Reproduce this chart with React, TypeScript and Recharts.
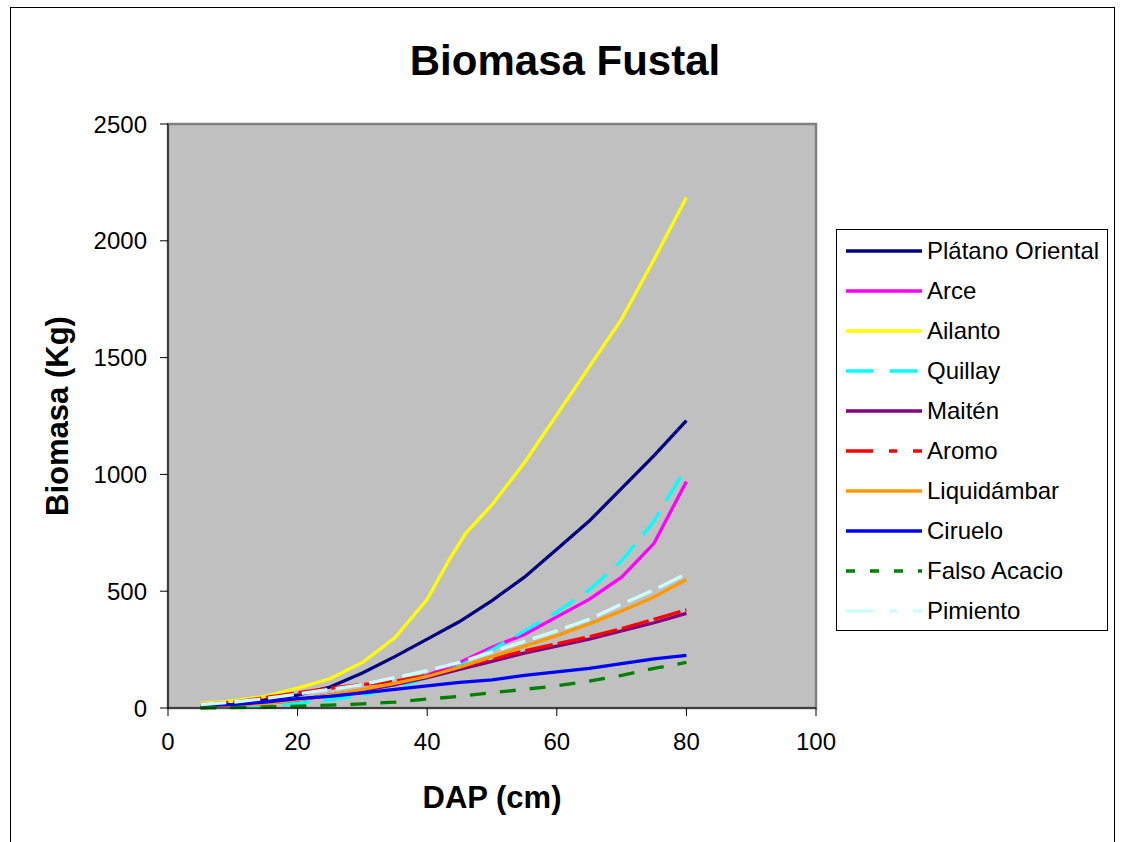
import { LineChart, Line, XAxis, YAxis, ReferenceArea } from 'recharts'

// DAP (cm) steps shared by most species
const dap = [5, 10, 15, 20, 25, 30, 35, 40, 45, 50, 55, 60, 65, 70, 75, 80]
// Ailanto was read with a few extra points around its kink
const dapAilanto = [5, 10, 15, 20, 25, 30, 35, 40, 43.5, 46, 48.5, 50, 55, 60, 65, 70, 75, 80]

const platano = [5, 15, 35, 55, 90, 150, 220, 295, 370, 460, 560, 680, 800, 940, 1080, 1230]
const arce = [5, 10, 20, 35, 55, 75, 100, 140, 195, 260, 315, 390, 465, 560, 705, 970]
const ailanto = [20, 30, 50, 85, 125, 195, 300, 465, 640, 750, 825, 870, 1050, 1255, 1460, 1665, 1920, 2185]
const quillay = [2, 5, 10, 20, 35, 55, 85, 130, 180, 250, 330, 410, 505, 630, 800, 1030]
const maiten = [3, 10, 20, 35, 55, 75, 100, 130, 165, 200, 235, 265, 295, 330, 365, 405]
const aromo = [15, 25, 45, 65, 85, 100, 115, 140, 175, 210, 245, 275, 305, 340, 380, 420]
const liquidambar = [2, 8, 18, 35, 55, 80, 105, 135, 175, 220, 265, 310, 360, 415, 475, 550]
const ciruelo = [10, 15, 25, 40, 50, 65, 80, 95, 110, 120, 140, 155, 170, 190, 210, 225]
const falsoAcacio = [0, 2, 5, 8, 12, 18, 25, 38, 50, 65, 80, 95, 115, 140, 170, 195]
const pimiento = [15, 25, 40, 60, 80, 100, 130, 160, 195, 240, 285, 330, 380, 445, 505, 575]

const xTicks = [0, 20, 40, 60, 80, 100]
const yTicks = [0, 500, 1000, 1500, 2000, 2500]

const toPoints = (xs: number[], ys: number[]) => xs.map((x, i) => ({ dap: x, v: ys[i] }))

const series = [
  { name: 'Plátano Oriental', color: '#000080', data: toPoints(dap, platano) },
  { name: 'Arce', color: '#FF00FF', data: toPoints(dap, arce) },
  { name: 'Ailanto', color: '#FFFF00', data: toPoints(dapAilanto, ailanto) },
  { name: 'Quillay', color: '#00FFFF', data: toPoints(dap, quillay), dash: '28 13', legendDash: '27 17' },
  { name: 'Maitén', color: '#800080', data: toPoints(dap, maiten) },
  { name: 'Aromo', color: '#FF0000', data: toPoints(dap, aromo), dash: '28 5', legendDash: '27 16 8 16' },
  { name: 'Liquidámbar', color: '#FF9900', data: toPoints(dap, liquidambar) },
  { name: 'Ciruelo', color: '#0000FF', data: toPoints(dap, ciruelo) },
  { name: 'Falso Acacio', color: '#008000', data: toPoints(dap, falsoAcacio), dash: '16 14', legendDash: '9 15' },
  { name: 'Pimiento', color: '#CCFFFF', data: toPoints(dap, pimiento), dash: '26 8', legendDash: '27 16 8 16' },
]

const font = 'Arial, "Liberation Sans", sans-serif'

export default function App() {
  return (
    <div style={{ position: 'absolute', left: 0, top: 0, width: 1121, height: 842, overflow: 'hidden', background: '#fff', fontFamily: font }}>
      <div style={{ position: 'absolute', left: 10, top: 7, width: 1103, height: 900, border: '1px solid #000' }} />
      <div style={{
        position: 'absolute', left: 0, width: 1130, top: 36, textAlign: 'center',
        fontSize: 42, fontWeight: 700, lineHeight: '50px', color: '#000',
      }}>
        Biomasa Fustal
      </div>

      <div style={{ position: 'absolute', left: 0, top: 0 }}>
        <LineChart width={1121} height={842} margin={{ top: 124, right: 305, bottom: 74, left: 68 }}>
          <ReferenceArea x1={0} x2={100} y1={0} y2={2500} fill="#C0C0C0" fillOpacity={1} stroke="#808080" strokeWidth={2.5} />
          <XAxis
            dataKey="dap"
            type="number"
            domain={[0, 100]}
            ticks={xTicks}
            allowDuplicatedCategory={false}
            height={60}
            tickSize={8}
            tickMargin={17}
            stroke="#000"
            tick={{ fill: '#000', fontSize: 24, fontFamily: font }}
            label={({ viewBox }: any) => (
              <text x={viewBox.x + viewBox.width / 2} y={808} textAnchor="middle" fontSize={31} fontWeight={700} fontFamily={font} fill="#000">
                DAP (cm)
              </text>
            )}
          />
          <YAxis
            dataKey="v"
            type="number"
            domain={[0, 2500]}
            ticks={yTicks}
            width={100}
            tickSize={8}
            tickMargin={13}
            stroke="#000"
            tick={{ fill: '#000', fontSize: 24, fontFamily: font }}
            label={({ viewBox }: any) => {
              const cx = viewBox.x - 11
              const cy = viewBox.y + viewBox.height / 2
              return (
                <text x={cx} y={cy} transform={`rotate(-90 ${cx} ${cy})`} textAnchor="middle" dominantBaseline="central" fontSize={31} fontWeight={700} fontFamily={font} fill="#000">
                  Biomasa (Kg)
                </text>
              )
            }}
          />
          {series.map((s) => (
            <Line
              key={s.name}
              data={s.data}
              dataKey="v"
              name={s.name}
              type="linear"
              stroke={s.color}
              strokeWidth={3.3}
              strokeDasharray={s.dash}
              dot={false}
              isAnimationActive={false}
            />
          ))}
        </LineChart>
      </div>

      <div style={{ position: 'absolute', left: 836, top: 229, width: 270, height: 400, border: '1px solid #000', background: '#fff' }}>
        {series.map((s, i) => (
          <div key={s.name} style={{ position: 'absolute', left: 8, top: 8 + i * 40, height: 26, display: 'flex', alignItems: 'center' }}>
            <svg width={78} height={6} style={{ display: 'block' }}>
              <line x1={1} y1={3} x2={77} y2={3} stroke={s.color} strokeWidth={3.3} strokeDasharray={s.legendDash} />
            </svg>
            <span style={{ marginLeft: 4, fontSize: 24, color: '#000', whiteSpace: 'nowrap' }}>{s.name}</span>
          </div>
        ))}
      </div>
    </div>
  )
}
